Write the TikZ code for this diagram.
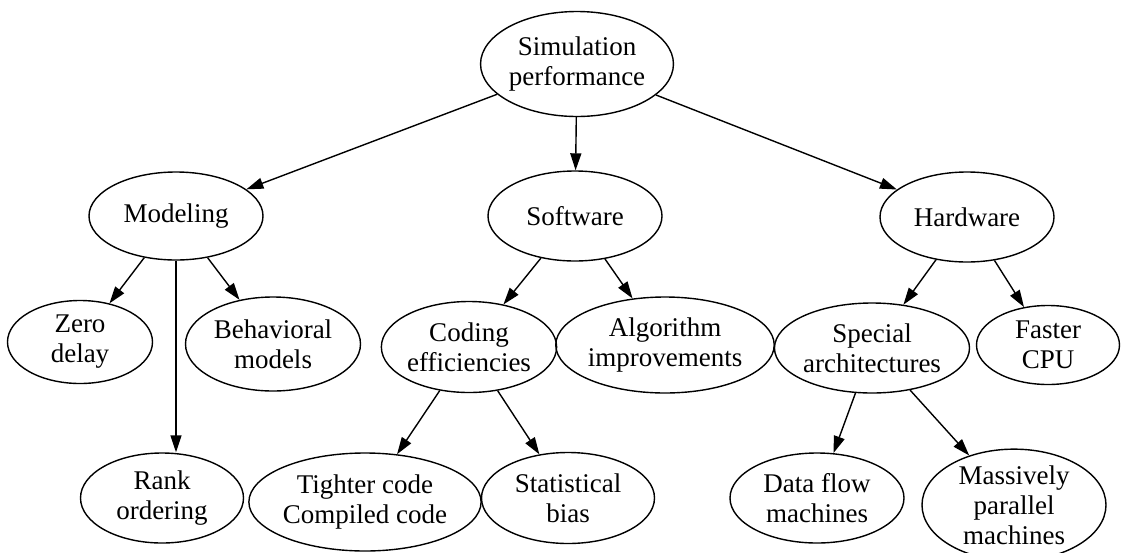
\documentclass[tikz,border=0pt]{standalone}
\usepackage{fontspec}
\setmainfont{Liberation Serif}
\usepackage{tikz}
\usetikzlibrary{shapes.geometric,arrows.meta}
\tikzset{
  topicnode/.style={ellipse, draw=black, line width=0.7pt, inner sep=0pt, align=center,
    font=\fontsize{13.5}{15}\selectfont, minimum width=87pt, minimum height=45pt},
  treearrow/.style={-{Triangle[length=8.5pt,width=5.5pt]}, draw=black, line width=0.7pt},
}
\begin{document}
\begin{tikzpicture}[x=0.5pt,y=-0.5pt]
  \useasboundingbox (0,0) rectangle (1125,552);

  \node[topicnode, minimum width=88.5pt, minimum height=52.5pt] (simperf) at (577,64) {Simulation\\performance};

  \node[topicnode, minimum height=44pt] (modeling) at (176,216) {Modeling};
  \node[topicnode] (software) at (575,216) {Software};
  \node[topicnode] (hardware) at (967,217) {Hardware};

  \node[topicnode, minimum width=72.5pt, minimum height=41.5pt] (zerodelay) at (80,342) {Zero\\delay};
  \node[topicnode, minimum width=87.5pt, minimum height=47pt] (behavioral) at (273,344) {Behavioral\\models};
  \node[topicnode, minimum width=86pt, minimum height=45.5pt] (coding) at (469,347) {Coding\\efficiencies};
  \node[topicnode, minimum width=87.5pt, minimum height=48pt] (algorithm) at (665,345) {Algorithm\\improvements};
  \node[topicnode, minimum width=86.5pt] (special) at (872,348) {Special\\architectures};
  \node[topicnode, minimum width=71.5pt, minimum height=39.5pt] (fastercpu) at (1048,345) {Faster\\CPU};

  \node[topicnode, minimum width=81.5pt] (rank) at (162,498) {Rank\\ordering};
  \node[topicnode, minimum width=93pt, minimum height=49pt] (tighter) at (365,502) {Tighter code\\Compiled code};
  \node[topicnode, minimum width=86.5pt, minimum height=45.5pt] (statistical) at (568,498) {Statistical\\bias};
  \node[topicnode] (dataflow) at (817,498) {Data flow\\machines};
  \node[topicnode, minimum width=92pt, minimum height=55pt] (massive) at (1014,505) {Massively\\parallel\\machines};

  \draw[treearrow] (simperf) -- (modeling);
  \draw[treearrow] (simperf) -- (software);
  \draw[treearrow] (simperf) -- (hardware);

  \draw[treearrow] (modeling) -- (zerodelay);
  \draw[treearrow] (modeling.south) -- (modeling.south |- rank.north);
  \draw[treearrow] (modeling) -- (behavioral);

  \draw[treearrow] (software) -- (coding);
  \draw[treearrow] (software) -- (algorithm);
  \draw[treearrow] (coding) -- (tighter);
  \draw[treearrow] (coding) -- (statistical);

  \draw[treearrow] (hardware) -- (special);
  \draw[treearrow] (hardware) -- (fastercpu);
  \draw[treearrow] (special) -- (dataflow);
  \draw[treearrow] (special) -- (massive);
\end{tikzpicture}
\end{document}
